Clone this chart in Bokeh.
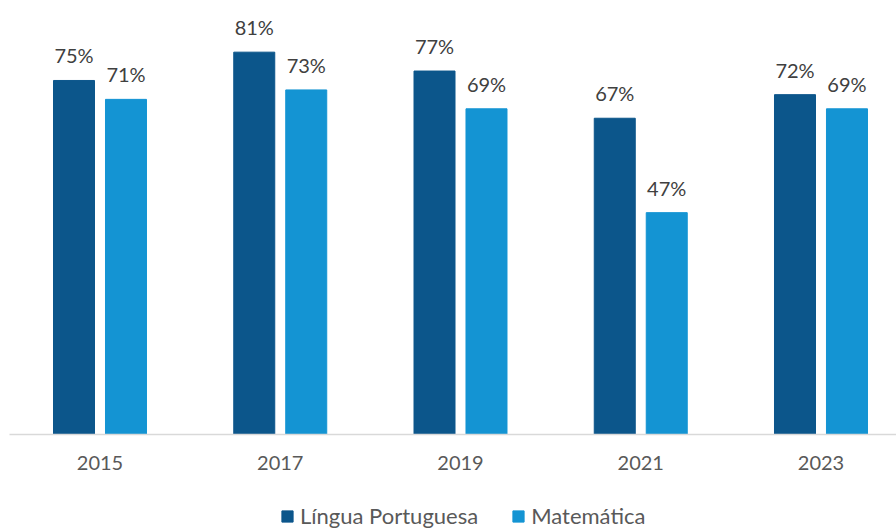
from bokeh.plotting import figure
from bokeh.layouts import column
from bokeh.models import ColumnDataSource, Range1d, FixedTicker, Legend, LegendItem
from bokeh.core.properties import value
from bokeh.transform import dodge
from bokeh.embed import file_html
from bokeh.resources import INLINE

years = ["2015", "2017", "2019", "2021", "2023"]
portugues = [75, 81, 77, 67, 72]
matematica = [71, 73, 69, 47, 69]
series_names = ["Língua Portuguesa", "Matemática"]

DARK = "#0C568B"
LIGHT = "#1494D3"
FONT = "Lato"

idx = list(range(len(years)))
src = ColumnDataSource(dict(
    x=idx, pt=portugues, mt=matematica,
    pt_lbl=[f"{v}%" for v in portugues],
    mt_lbl=[f"{v}%" for v in matematica],
))

p = figure(frame_width=887, frame_height=426, output_backend="svg", toolbar_location=None,
           x_range=Range1d(-0.5021, 4.4189), y_range=Range1d(0, 90.25),
           min_border_left=9, min_border_right=0, min_border_top=8,
           min_border_bottom=72)
p.outline_line_color = None
p.grid.grid_line_color = None
p.yaxis.visible = False

off = 0.1442
bw = 0.2275
r1 = p.vbar(x=dodge("x", -off), top="pt", width=bw, source=src, color=DARK)
r2 = p.vbar(x=dodge("x", off), top="mt", width=bw, source=src, color=LIGHT)

p.text(x=dodge("x", -off), y="pt", text="pt_lbl", source=src, text_align="center",
       text_baseline="alphabetic", y_offset=-25, text_font=value(FONT),
       text_font_size="20px", text_color="#404040")
p.text(x=dodge("x", off), y="mt", text="mt_lbl", source=src, text_align="center",
       text_baseline="alphabetic", y_offset=-25, text_font=value(FONT),
       text_font_size="20px", text_color="#404040")

ax = p.xaxis[0]
ax.ticker = FixedTicker(ticks=idx)
ax.major_label_overrides = {i: y for i, y in zip(idx, years)}
ax.major_tick_line_color = None
ax.minor_tick_line_color = None
ax.major_tick_out = 0
ax.major_tick_in = 0
ax.major_label_standoff = 21
ax.axis_line_color = "#d9d9d9"
ax.axis_line_width = 1.5
ax.major_label_text_font = FONT
ax.major_label_text_font_size = "20px"
ax.major_label_text_color = "#595959"

# legend strip below the chart (same series, drawn outside its visible range)
q = figure(frame_width=896, frame_height=30, output_backend="svg", toolbar_location=None,
           x_range=Range1d(-0.5, 4.5), y_range=Range1d(1000, 1030),
           min_border_left=0, min_border_right=0, min_border_top=0,
           min_border_bottom=0)
q.outline_line_color = None
q.axis.visible = False
q.grid.grid_line_color = None
q1 = q.vbar(x="x", top="pt", width=bw, source=src, color=DARK)
q2 = q.vbar(x="x", top="mt", width=bw, source=src, color=LIGHT)

legend = Legend(items=[LegendItem(label=series_names[0], renderers=[q1]),
                       LegendItem(label=series_names[1], renderers=[q2])],
                orientation="horizontal", location=(280, 7),
                glyph_width=14, glyph_height=14, label_standoff=6, spacing=33,
                label_text_font=FONT, label_text_font_size="22px",
                label_text_color="#595959", border_line_color=None,
                background_fill_alpha=0, padding=0, margin=0)
q.add_layout(legend, "center")

layout = column(p, q, spacing=0)
open("out.html", "w").write(file_html(layout, INLINE))
